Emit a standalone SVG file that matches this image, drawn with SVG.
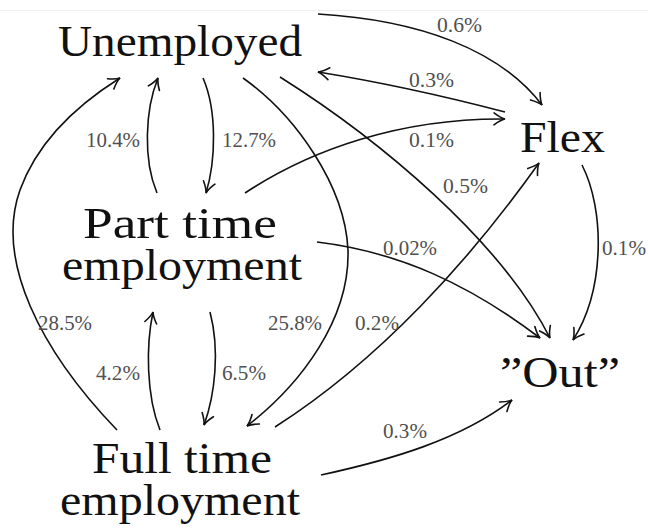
<svg xmlns="http://www.w3.org/2000/svg" width="648" height="530" viewBox="0 0 648 530">
<style>
.node{font-family:"Liberation Serif","DejaVu Serif",serif;font-size:45px;fill:#111}
.lbl{font-family:"Liberation Serif","DejaVu Serif",serif;font-size:21px;fill:#505050}
.e{fill:none;stroke:#111;stroke-width:1.6;marker-end:url(#arr)}
</style>
<defs>
<marker id="arr" viewBox="-13 -8 15 16" refX="0" refY="0" markerWidth="15" markerHeight="16" markerUnits="userSpaceOnUse" orient="auto">
<path d="M-11,-6 C-6,-2.2 -2.5,-0.6 0,0 C-2.5,0.6 -6,2.2 -11,6" fill="none" stroke="#111" stroke-width="1.6" stroke-linecap="round"/>
</marker>
</defs>
<rect width="648" height="530" fill="#fff"/>
<line x1="0" y1="10.5" x2="648" y2="10.5" stroke="#eeeeee" stroke-width="1"/>
<g id="connectors">
<path class="e" d="M318,14 C420,20 500,50 542,105"/>
<path class="e" d="M505,112 C440,95 380,82 318,72"/>
<path class="e" d="M245,193 C310,150 400,118 505,119"/>
<path class="e" d="M280,77 C380,140 500,240 550,338"/>
<path class="e" d="M243,78 C295,115 345,185 348,250 C350,320 300,385 247,426"/>
<path class="e" d="M275,427 C380,360 470,260 539,163"/>
<path class="e" d="M317,242 C400,252 470,285 540,338"/>
<path class="e" d="M582,165 C605,210 605,290 573,340"/>
<path class="e" d="M321,475 C390,460 460,440 512,400"/>
<path class="e" d="M117,430 C40,350 -5,260 20,190 C40,135 85,100 120,78"/>
<path class="e" d="M157,193 C143,160 145,110 158,78"/>
<path class="e" d="M203,78 C217,110 216,160 206,193"/>
<path class="e" d="M160,430 C146,395 146,345 153,312"/>
<path class="e" d="M210,312 C220,350 215,395 204,425"/>
</g>
<g id="edge-labels">
<text class="lbl" x="437" y="32" textLength="45" lengthAdjust="spacingAndGlyphs">0.6%</text>
<text class="lbl" x="409" y="87" textLength="45" lengthAdjust="spacingAndGlyphs">0.3%</text>
<text class="lbl" x="409" y="147" textLength="45" lengthAdjust="spacingAndGlyphs">0.1%</text>
<text class="lbl" x="443" y="193" textLength="45" lengthAdjust="spacingAndGlyphs">0.5%</text>
<text class="lbl" x="86" y="147" textLength="54" lengthAdjust="spacingAndGlyphs">10.4%</text>
<text class="lbl" x="222" y="147" textLength="54" lengthAdjust="spacingAndGlyphs">12.7%</text>
<text class="lbl" x="602" y="255" textLength="44" lengthAdjust="spacingAndGlyphs">0.1%</text>
<text class="lbl" x="383" y="255" textLength="54" lengthAdjust="spacingAndGlyphs">0.02%</text>
<text class="lbl" x="38" y="330" textLength="54" lengthAdjust="spacingAndGlyphs">28.5%</text>
<text class="lbl" x="268" y="330" textLength="54" lengthAdjust="spacingAndGlyphs">25.8%</text>
<text class="lbl" x="355" y="330" textLength="44" lengthAdjust="spacingAndGlyphs">0.2%</text>
<text class="lbl" x="96" y="380" textLength="44" lengthAdjust="spacingAndGlyphs">4.2%</text>
<text class="lbl" x="222" y="380" textLength="44" lengthAdjust="spacingAndGlyphs">6.5%</text>
<text class="lbl" x="383" y="438" textLength="44" lengthAdjust="spacingAndGlyphs">0.3%</text>
</g>
<g id="unemployed"><text class="node" x="58" y="56" textLength="244" lengthAdjust="spacingAndGlyphs">Unemployed</text></g>
<g id="part-time"><text class="node" x="83" y="238" textLength="194" lengthAdjust="spacingAndGlyphs">Part time</text><text class="node" x="62" y="280" textLength="240" lengthAdjust="spacingAndGlyphs">employment</text></g>
<g id="flex"><text class="node" x="520" y="152" textLength="85" lengthAdjust="spacingAndGlyphs">Flex</text></g>
<g id="out"><text class="node" x="500" y="387" textLength="120" lengthAdjust="spacingAndGlyphs">”Out”</text></g>
<g id="full-time"><text class="node" x="92" y="473" textLength="180" lengthAdjust="spacingAndGlyphs">Full time</text><text class="node" x="60" y="515" textLength="240" lengthAdjust="spacingAndGlyphs">employment</text></g>
</svg>
